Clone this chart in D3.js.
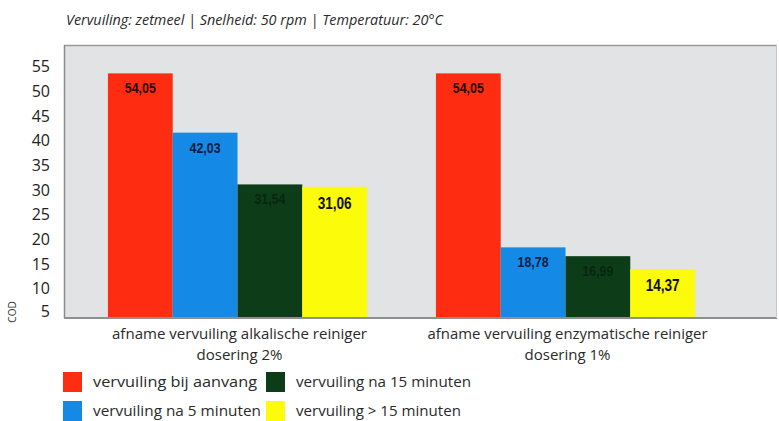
<!DOCTYPE html>
<html>
<head>
<meta charset="utf-8">
<script src="https://cdn.jsdelivr.net/npm/d3@7"></script>
<style>
  html, body { margin: 0; padding: 0; background: #ffffff; }
  svg { display: block; }
</style>
</head>
<body>
<svg id="chart" width="779" height="421"></svg>
<script>
// ---- data ----
const title = "Vervuiling: zetmeel | Snelheid: 50 rpm | Temperatuur: 20\u00B0C";
const categories = [
  ["afname vervuiling alkalische reiniger", "dosering 2%"],
  ["afname vervuiling enzymatische reiniger", "dosering 1%"]
];
const seriesNames = [
  "vervuiling bij aanvang",
  "vervuiling na 5 minuten",
  "vervuiling na 15 minuten",
  "vervuiling > 15 minuten"
];
const aanvang = [54.05, 54.05];
const na5 = [42.03, 18.78];
const na15 = [31.54, 16.99];
const langer15 = [31.06, 14.37];
const valueLabels = [
  ["54,05", "42,03", "31,54", "31,06"],
  ["54,05", "18,78", "16,99", "14,37"]
];
const yTicks = [5, 10, 15, 20, 25, 30, 35, 40, 45, 50, 55];
const yTitle = "COD";

// ---- styling ----
const colors = ["#fe2c10", "#1489e6", "#0c3d18", "#fbfb0a"];
const labelColors = ["#2a0804", "#0a1d45", "#08260f", "#111111"];
const font = "'Liberation Sans Narrow', 'Liberation Sans', 'Open Sans', sans-serif";

const svg = d3.select("#chart");
const plot = { left: 64, right: 777, top: 45, bottom: 318 };

const y = d3.scaleLinear().domain([4.46, 59.8]).range([plot.bottom, plot.top]);
const x0 = d3.scaleBand().domain(d3.range(categories.length))
  .range([73.5, 729.5]).paddingInner(0.21).paddingOuter(0.105);
const x1 = d3.scaleBand().domain(d3.range(seriesNames.length))
  .range([0, x0.bandwidth()]).padding(0);

const seriesValues = [aanvang, na5, na15, langer15];

// plot background
svg.append("rect")
  .attr("x", plot.left).attr("y", plot.top)
  .attr("width", plot.right - plot.left).attr("height", plot.bottom - plot.top)
  .attr("fill", "#e1e3e5");

// title
svg.append("text")
  .attr("x", 66).attr("y", 25)
  .attr("font-family", "'Open Sans', sans-serif")
  .attr("font-style", "italic")
  .attr("font-size", 14.5)
  .attr("fill", "#2a2a2a")
  .attr("textLength", 377).attr("lengthAdjust", "spacingAndGlyphs")
  .text(title);

// bars
const groups = svg.append("g").selectAll("g")
  .data(categories).join("g")
  .attr("transform", (d, i) => `translate(${x0(i)},0)`);

groups.each(function(cat, gi) {
  const g = d3.select(this);
  seriesValues.forEach((vals, si) => {
    const v = vals[gi];
    g.append("rect")
      .attr("x", x1(si)).attr("width", x1.bandwidth())
      .attr("y", y(v)).attr("height", y(y.domain()[0]) - y(v))
      .attr("fill", colors[si]);
    g.append("text")
      .attr("x", x1(si) + x1.bandwidth() / 2)
      .attr("y", y(v) + (si === 3 ? 22 : 20))
      .attr("text-anchor", "middle")
      .attr("font-family", font)
      .attr("font-weight", "bold")
      .attr("font-size", si === 3 ? 16 : 14)
      .attr("fill", labelColors[si])
      .attr("textLength", si === 3 ? 34 : 31).attr("lengthAdjust", "spacingAndGlyphs")
      .text(valueLabels[gi][si]);
  });
});

// borders
svg.append("line").attr("x1", plot.left).attr("x2", plot.right)
  .attr("y1", plot.top + 0.5).attr("y2", plot.top + 0.5)
  .attr("stroke", "#9a9a9a").attr("stroke-width", 1.5);
svg.append("line").attr("x1", plot.left + 0.5).attr("x2", plot.left + 0.5)
  .attr("y1", plot.top).attr("y2", plot.bottom)
  .attr("stroke", "#8a8a8a").attr("stroke-width", 1.5);
svg.append("line").attr("x1", plot.left).attr("x2", plot.right)
  .attr("y1", plot.bottom).attr("y2", plot.bottom)
  .attr("stroke", "#8f8f8f").attr("stroke-width", 2);
svg.append("line").attr("x1", plot.right - 0.5).attr("x2", plot.right - 0.5)
  .attr("y1", plot.top).attr("y2", plot.bottom)
  .attr("stroke", "#c4c8ca").attr("stroke-width", 1);

// y axis
const yAxis = d3.axisLeft(y).tickValues(yTicks).tickSize(0).tickPadding(14);
const ya = svg.append("g").attr("transform", `translate(${plot.left},0)`).call(yAxis);
ya.select(".domain").remove();
ya.selectAll("text")
  .attr("font-family", "'Open Sans', sans-serif")
  .attr("font-size", 16)
  .attr("fill", "#222")
  .attr("dy", d => d === 5 ? "0.05em" : "0.2em");

svg.append("text")
  .attr("transform", "translate(16,312) rotate(-90)")
  .attr("text-anchor", "middle")
  .attr("font-family", "'Open Sans', sans-serif")
  .attr("font-size", 10)
  .attr("fill", "#333")
  .text(yTitle);

// category labels
categories.forEach((lines, i) => {
  const cx = x0(i) + x0.bandwidth() / 2 + 2;
  lines.forEach((line, li) => {
    svg.append("text")
      .attr("x", cx).attr("y", 339 + li * 21)
      .attr("text-anchor", "middle")
      .attr("font-family", "'Open Sans', sans-serif")
      .attr("font-size", 15)
      .attr("fill", "#2a2a2a")
      .attr("textLength", li === 0 ? (i === 0 ? 255 : 280) : 86)
      .attr("lengthAdjust", "spacingAndGlyphs")
      .text(line);
  });
});

// legend
const legendPos = [
  { x: 63, y: 372, w: 164 },
  { x: 63, y: 401, w: 168 },
  { x: 266, y: 372, w: 175 },
  { x: 266, y: 401, w: 165 }
];
seriesNames.forEach((name, i) => {
  const p = legendPos[i];
  svg.append("rect")
    .attr("x", p.x).attr("y", p.y).attr("width", 19).attr("height", 20)
    .attr("fill", colors[i]);
  svg.append("text")
    .attr("x", p.x + 30).attr("y", p.y + 15)
    .attr("font-family", "'Open Sans', sans-serif")
    .attr("font-size", 15)
    .attr("fill", "#2a2a2a")
    .attr("textLength", p.w).attr("lengthAdjust", "spacingAndGlyphs")
    .text(name);
});
</script>
</body>
</html>
